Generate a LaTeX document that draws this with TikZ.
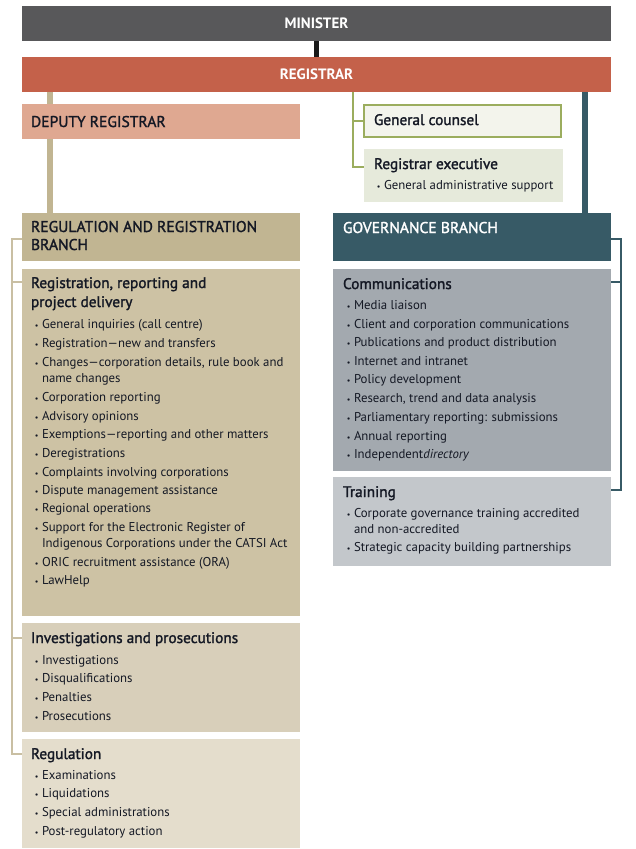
\documentclass[tikz,border=0pt]{standalone}
\usepackage{fontspec}
\setmainfont{PT Sans}
\newfontfamily\semib[FakeBold=1.6]{PT Sans}
\usetikzlibrary{fit,calc}
\pgfdeclarelayer{bg}
\pgfsetlayers{bg,main}
\definecolor{cmin}{HTML}{58585A}
\definecolor{creg}{HTML}{C4614A}
\definecolor{cdep}{HTML}{DFA891}
\definecolor{ctan}{HTML}{C1B592}
\definecolor{crrp}{HTML}{CDC2A4}
\definecolor{cinv}{HTML}{D8CFBA}
\definecolor{crgn}{HTML}{E4DDCC}
\definecolor{cbrk}{HTML}{C9BFA3}
\definecolor{cgov}{HTML}{375A66}
\definecolor{ccom}{HTML}{A3A9AF}
\definecolor{ctrn}{HTML}{C3C7CB}
\definecolor{cgrn}{HTML}{9BAD5E}
\definecolor{cgc}{HTML}{F3F4EC}
\definecolor{crex}{HTML}{E6EADB}
\definecolor{ctxt}{HTML}{141824}
\newcommand\hdfont{\semib\fontsize{15.3}{17}\selectfont}
\newcommand\capfont{\semib\fontsize{15.6}{17}\selectfont}
\newcommand\topfont{\bfseries\fontsize{15}{17}\selectfont}
\newcommand\itfont{\fontsize{12.8}{15}\selectfont}
\newcommand\bul{\llap{{\fontsize{8}{8}\selectfont\textbullet}\hspace{3.5pt}}}
\tikzset{
  box/.style={inner sep=0pt, outer sep=0pt, draw=none},
  hd/.style={inner sep=0pt, outer sep=0pt, anchor=base west, text=ctxt, font=\hdfont},
  capstyle/.style={hd, font=\capfont},
  it/.style={inner sep=0pt, outer sep=0pt, anchor=base west, text=ctxt, font=\itfont},
  topstyle/.style={inner sep=0pt, outer sep=0pt, anchor=base, text=white, font=\topfont},
  conn/.style={line cap=butt}
}
\begin{document}
\begin{tikzpicture}[x=1pt,y=-1pt]
\useasboundingbox (0,0) rectangle (635,849);
% boxes
\node[box, fill=cmin, fit={(22,6) (611,41)}] (min) {};
\node[box, fill=creg, fit={(22,57) (611,92)}] (reg) {};
\node[box, fill=cdep, fit={(22,104) (300,139)}] (dep) {};
\node[box, fill=cgc, draw=cgrn, line width=2pt, fit={(364,105) (561,137)}] (gc) {};
\node[box, fill=crex, fit={(364,149) (563,202)}] (rex) {};
\node[box, fill=ctan, fit={(22,213) (300,261)}] (rrb) {};
\node[box, fill=cgov, fit={(333,213) (611,261)}] (gov) {};
\node[box, fill=crrp, fit={(22,269) (300,616)}] (rrp) {};
\node[box, fill=cinv, fit={(22,623) (300,732)}] (inv) {};
\node[box, fill=crgn, fit={(22,739) (300,848)}] (rgn) {};
\node[box, fill=ccom, fit={(333,269) (611,471)}] (com) {};
\node[box, fill=ctrn, fit={(333,477) (611,566)}] (trn) {};
% connector coordinates
\coordinate (tanx) at (50,0);
\coordinate (grnx) at (353,0);
\coordinate (tealx) at (585,0);
\coordinate (rexs) at (353,167);
\coordinate (lb1) at (12,239);
\coordinate (lb2) at (12,282);
\coordinate (lb3) at (12,638);
\coordinate (lb4) at (12,754);
\coordinate (rb1) at (621,239);
\coordinate (rb2) at (621,282);
\coordinate (rb3) at (621,490);
\begin{pgfonlayer}{bg}
\fill[white] (0,0) rectangle (635,849);
\draw[conn, line width=5pt, black!90] (min.south) -- (reg.north);
\draw[conn, line width=6pt, ctan] (reg.south -| tanx) -- (rrb.north -| tanx);
\draw[conn, line width=6pt, cgov] (reg.south -| tealx) -- (gov.north -| tealx);
\draw[conn, line width=2pt, cgrn] (reg.south -| grnx) -- (rexs) -- (rex.west |- rexs);
\draw[conn, line width=2pt, cgrn] (gc.west -| grnx) -- (gc.west);
\draw[line width=1.5pt, cbrk] (rrb.west |- lb1) -- (lb1) -- (lb4) -- (rgn.west |- lb4);
\draw[line width=1.5pt, cbrk] (lb2) -- (rrp.west |- lb2);
\draw[line width=1.5pt, cbrk] (lb3) -- (inv.west |- lb3);
\draw[line width=2pt, cgov] (gov.east |- rb1) -- (rb1) -- (rb3) -- (trn.east |- rb3);
\draw[line width=2pt, cgov] (rb2) -- (com.east |- rb2);
\end{pgfonlayer}
% texts top
\node[topstyle] (tmin) at ($(min.center)+(0,5)$) {MINISTER};
\node[topstyle] (treg) at ($(reg.center)+(0,5)$) {REGISTRAR};
\node[capstyle] (tdep) at (31,127) {DEPUTY REGISTRAR};
\node[hd] (tgc) at (374,125) {General counsel};
\node[hd] (trex) at (374,169) {Registrar executive};
\node[it] (trex1) at (384,189) {\bul General administrative support};
\node[capstyle] (trrb1) at (31,232) {REGULATION AND REGISTRATION};
\node[capstyle] (trrb2) at (31,250) {BRANCH};
\node[capstyle, text=white] (tgov) at (343,233) {GOVERNANCE BRANCH};
% registration
\node[hd] (trp1) at (31,288) {Registration, reporting and};
\node[hd] (trp2) at (31,307) {project delivery};
\node[it] (rp1) at (42,328) {\bul General inquiries (call centre)};
\node[it] (rp2) at (42,347) {\bul Registration—new and transfers};
\node[it] (rp3) at (42,366) {\bul Changes—corporation details, rule book and};
\node[it] (rp3b) at (42,382) {name changes};
\node[it] (rp4) at (42,401) {\bul Corporation reporting};
\node[it] (rp5) at (42,420) {\bul Advisory opinions};
\node[it] (rp6) at (42,438) {\bul Exemptions—reporting and other matters};
\node[it] (rp7) at (42,457) {\bul Deregistrations};
\node[it] (rp8) at (42,476) {\bul Complaints involving corporations};
\node[it] (rp9) at (42,494) {\bul Dispute management assistance};
\node[it] (rp10) at (42,512) {\bul Regional operations};
\node[it] (rp11) at (42,531) {\bul Support for the Electronic Register of};
\node[it] (rp11b) at (42,547) {Indigenous Corporations under the CATSI Act};
\node[it] (rp12) at (42,566) {\bul ORIC recruitment assistance (ORA)};
\node[it] (rp13) at (42,584) {\bul LawHelp};
% investigations
\node[hd] (tinv) at (31,643) {Investigations and prosecutions};
\node[it] (iv1) at (42,664) {\bul Investigations};
\node[it] (iv2) at (42,682) {\bul Disqualifications};
\node[it] (iv3) at (42,701) {\bul Penalties};
\node[it] (iv4) at (42,720) {\bul Prosecutions};
% regulation
\node[hd] (trg) at (31,759) {Regulation};
\node[it] (rg1) at (42,779) {\bul Examinations};
\node[it] (rg2) at (42,797) {\bul Liquidations};
\node[it] (rg3) at (42,816) {\bul Special administrations};
\node[it] (rg4) at (42,835) {\bul Post-regulatory action};
% communications
\node[hd] (tcom) at (343,289) {Communications};
\node[it] (cm1) at (354,309) {\bul Media liaison};
\node[it] (cm2) at (354,328) {\bul Client and corporation communications};
\node[it] (cm3) at (354,346) {\bul Publications and product distribution};
\node[it] (cm4) at (354,365) {\bul Internet and intranet};
\node[it] (cm5) at (354,383) {\bul Policy development};
\node[it] (cm6) at (354,402) {\bul Research, trend and data analysis};
\node[it] (cm7) at (354,421) {\bul Parliamentary reporting: submissions};
\node[it] (cm8) at (354,440) {\bul Annual reporting};
\node[it] (cm9) at (354,458) {\bul Independent\textit{directory}};
% training
\node[hd] (ttr) at (343,497) {Training};
\node[it] (tr1) at (354,517) {\bul Corporate governance training accredited};
\node[it] (tr1b) at (354,533) {and non-accredited};
\node[it] (tr2) at (354,551) {\bul Strategic capacity building partnerships};
\end{tikzpicture}
\end{document}
